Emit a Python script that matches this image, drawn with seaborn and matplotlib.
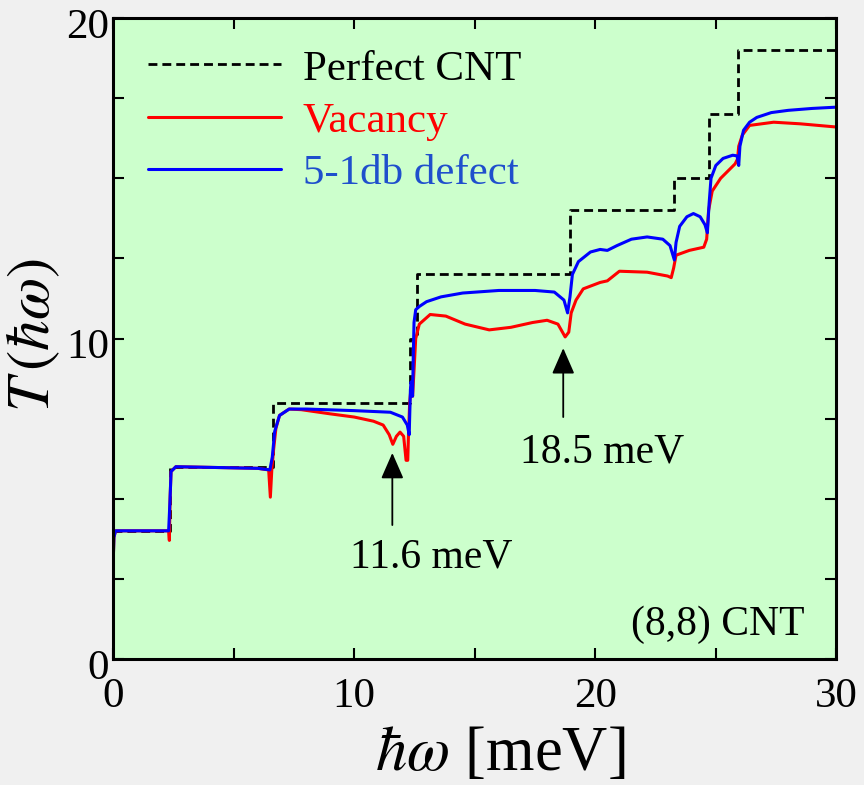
import matplotlib
matplotlib.use("Agg")
import matplotlib.pyplot as plt
from matplotlib.transforms import ScaledTranslation
import seaborn as sns
import pandas as pd

# Transmission T(hw) vs phonon energy
perfect_x = [0, 2.36, 2.36, 6.64, 6.64, 12.3, 12.3, 12.6, 12.6, 18.96, 18.96,
             23.27, 23.27, 24.7, 24.7, 25.93, 25.93, 30]
perfect_y = [4, 4, 6, 6, 8, 8, 10, 10, 12, 12, 14, 14, 15, 15, 17, 17, 19, 19]

vac_x = [0, 0.03, 0.1, 2.3, 2.33, 2.36, 2.4, 2.6, 4, 6.0, 6.45, 6.52, 6.58,
         6.65, 6.75, 6.9, 7.3, 7.8, 9, 10, 10.8, 11.2, 11.45, 11.6, 11.75,
         11.9, 12.05, 12.15, 12.22, 12.25, 12.3, 12.36, 12.42, 12.48, 12.55,
         12.7, 13.15, 13.8, 14.6, 15.6, 16.5, 17.4, 18.0, 18.45, 18.75, 18.9,
         19.0, 19.2, 19.5, 20.2, 20.5, 21.0, 22.15, 23.0, 23.15, 23.25, 23.35,
         23.9, 24.5, 24.62, 24.7, 24.85, 25.2, 25.8, 25.9, 25.95, 26.1, 26.4,
         27.4, 28.5, 30]
vac_y = [3.0, 3.8, 4.0, 4.0, 3.7, 5.0, 5.85, 6.0, 5.98, 5.95, 5.9, 5.05, 5.9,
         6.5, 7.2, 7.6, 7.8, 7.78, 7.65, 7.55, 7.42, 7.3, 7.0, 6.7, 6.95,
         7.08, 6.95, 6.2, 6.2, 7.0, 8.0, 8.5, 8.2, 9.0, 10.0,
         10.45, 10.75, 10.7, 10.45, 10.27, 10.35, 10.5, 10.57, 10.45, 10.05, 10.2,
         10.8, 11.2, 11.55, 11.75, 11.8, 12.1, 12.07, 11.95, 11.9, 12.2, 12.6,
         12.75, 12.85, 13.1, 14.0, 14.6, 15.0, 15.45, 15.6, 16.0, 16.35, 16.65,
         16.75, 16.7, 16.6]

db_x = [0, 0.03, 0.1, 2.3, 2.36, 2.4, 2.6, 4, 6.0, 6.5, 6.6, 6.7, 6.9, 7.3, 8,
        10, 11.5, 12.0, 12.2, 12.28, 12.33, 12.36, 12.42, 12.45, 12.48, 12.55,
        12.7, 13, 13.6, 14.5, 16, 17.5, 18.3, 18.7, 18.85, 18.95, 19.05, 19.3,
        19.8, 20.2, 20.5, 20.9, 21.5, 22.15, 22.8, 23.1, 23.28, 23.35, 23.5,
        23.8, 24.07, 24.35, 24.55, 24.65, 24.72, 24.8, 25.0, 25.3, 25.7, 25.88,
        25.95, 26.0, 26.15, 26.4, 26.7, 27.3, 28, 29, 30]
db_y = [3.0, 3.8, 4.0, 4.0, 5.0, 5.85, 6.0, 5.98, 5.95, 5.9, 6.3, 7.1, 7.6, 7.8,
        7.8, 7.75, 7.7, 7.55, 7.3, 7.0, 8.4, 8.65, 8.2, 9.5, 10.5, 10.9,
        11.0, 11.15, 11.3, 11.42, 11.5, 11.5, 11.45, 11.2, 10.8, 11.3, 12.0,
        12.4, 12.7, 12.78, 12.75, 12.9, 13.1, 13.17, 13.1, 12.9, 12.45, 13.0,
        13.5, 13.8, 13.9, 13.8, 13.55, 13.3, 14.2, 15.0, 15.4, 15.62, 15.72,
        15.7, 15.4, 16.0, 16.5, 16.75, 16.9, 17.05, 17.12, 17.18, 17.22]

labels = ["Perfect CNT", "Vacancy", "5-1db defect"]
colors = ["black", "#ff0000", "#0000ff"]
text_colors = ["black", "#ff0000", "#1f4fcc"]

# arrow annotations: (label, arrow x, arrow tip y, arrow tail y, text x, text baseline y)
notes = [("11.6 meV", 11.58, 6.43, 4.18, 13.2, 2.84),
         ("18.5 meV", 18.67, 9.7, 7.55, 20.29, 6.12)]

sns.set_style("ticks")
plt.rcParams['font.family'] = ['Liberation Serif', 'DejaVu Serif']
plt.rcParams['mathtext.fontset'] = 'stix'
plt.rcParams['text.color'] = 'black'
plt.rcParams['axes.labelcolor'] = 'black'

fig = plt.figure(figsize=(8.64, 7.85), dpi=100, facecolor='#f0f0f0')
ax = fig.add_axes([0.131, 0.1605, 0.837, 0.8165])
ax.set_facecolor('#ccffcc')

df_p = pd.DataFrame({'x': perfect_x, 'y': perfect_y})
df_v = pd.DataFrame({'x': vac_x, 'y': vac_y})
df_d = pd.DataFrame({'x': db_x, 'y': db_y})

sns.lineplot(data=df_p, x='x', y='y', ax=ax, sort=False, estimator=None,
             color=colors[0], linewidth=2.0, linestyle=(0, (3.2, 1.8)), label=labels[0])
sns.lineplot(data=df_v, x='x', y='y', ax=ax, sort=False, estimator=None,
             color=colors[1], linewidth=2.2, label=labels[1])
sns.lineplot(data=df_d, x='x', y='y', ax=ax, sort=False, estimator=None,
             color=colors[2], linewidth=2.2, label=labels[2])

ax.set_xlim(0, 30)
ax.set_ylim(0, 20)
ax.set_xticks([0, 5, 10, 15, 20, 25, 30])
ax.set_xticklabels(['0', '', '10', '', '20', '', '30'])
ax.set_yticks([0, 2.5, 5, 7.5, 10, 12.5, 15, 17.5, 20])
ax.set_yticklabels(['0', '', '', '', '10', '', '', '', '20'])
ax.tick_params(direction='in', length=8, width=1.5, top=True, right=True,
               labelsize=31, colors='black')
ax.tick_params(axis='x', pad=13)
ax.tick_params(axis='y', pad=3)
for lab in ax.get_yticklabels():
    lab.set_transform(lab.get_transform() + ScaledTranslation(0, -0.05, fig.dpi_scale_trans))
for s in ax.spines.values():
    s.set_linewidth(2.2)
    s.set_color('black')

ax.set_xlabel(r'$\hbar\omega$ [meV]', fontsize=45, va='top')
ax.xaxis.set_label_coords(0.535, -0.105)
ax.set_ylabel(r'$T\,(\hbar\omega)$', fontsize=44)
ax.yaxis.set_label_coords(-0.07, 0.505)

for txt, ax_x, tip, tail, tx, ty in notes:
    ax.annotate('', xy=(ax_x, tip), xytext=(ax_x, tail),
                arrowprops=dict(arrowstyle='-|>,head_length=1.6,head_width=0.7',
                                color='black', lw=1.3, shrinkA=0, shrinkB=0))
    ax.text(tx, ty, txt, fontsize=30, ha='center', va='baseline')

ax.text(0.956, 0.037, '(8,8) CNT', transform=ax.transAxes, fontsize=30,
        ha='right', va='baseline')

leg = ax.legend(loc='upper left', bbox_to_anchor=(0.024, 0.978), frameon=False,
                fontsize=31, handlelength=3.1, handletextpad=0.5,
                labelspacing=0.3, borderaxespad=0)
for t, c in zip(leg.get_texts(), text_colors):
    t.set_color(c)

fig.savefig('out.png', dpi=100, facecolor=fig.get_facecolor())
